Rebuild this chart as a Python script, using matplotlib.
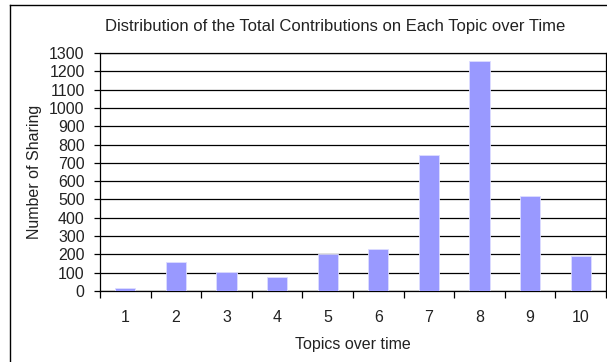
import numpy as np
import matplotlib.pyplot as plt
from matplotlib.lines import Line2D

topics = [1, 2, 3, 4, 5, 6, 7, 8, 9, 10]
sharing = [18, 160, 105, 75, 200, 232, 742, 1255, 520, 192]
yticks = list(range(0, 1301, 100))

plt.rcParams['font.family'] = ['Liberation Sans', 'DejaVu Sans']

fig = plt.figure(figsize=(6.07, 3.62), dpi=100)
W, H = 607, 362
ax = fig.add_axes([100 / W, (H - 291) / H, 506 / W, (291 - 53) / H])

x = np.arange(1, len(topics) + 1)
ax.bar(x, sharing, width=0.4, color='#9999FF', edgecolor='#DDDDFF', linewidth=0.6, zorder=3)

ax.set_xlim(0.5, len(topics) + 0.5)
ax.set_ylim(0, 1300)
ax.set_yticks(yticks)
ax.yaxis.grid(True, color='black', linewidth=0.9, zorder=0)
ax.set_axisbelow(True)

# labels at centres, tick marks between categories
ax.set_xticks(x)
ax.set_xticklabels([str(t) for t in topics])
ax.set_xticks(np.arange(0.5, len(topics) + 1, 1.0), minor=True)
ax.tick_params(axis='x', which='major', length=0, pad=14, labelsize=11.5, colors='#222222')
ax.tick_params(axis='x', which='minor', length=5, width=0.9, direction='out')
ax.tick_params(axis='y', length=4, width=0.9, direction='out', pad=7, labelsize=11.5, labelcolor='#222222')

for s in ax.spines.values():
    s.set_linewidth(0.9)
    s.set_color('black')

ax.set_xlabel('Topics over time', fontsize=11.5, color='#222222', labelpad=8)
ax.set_ylabel('Number of Sharing', fontsize=11.5, color='#222222')
ax.yaxis.set_label_coords((42 - 100) / 506, 0.5)

fig.text(335 / W, 1 - 27 / H, 'Distribution of the Total Contributions on Each Topic over Time',
         ha='center', va='center', fontsize=12, color='#222222')

# outer chart frame
fig.add_artist(Line2D([10 / W, 10 / W], [0, 1 - 5 / H], color='black', linewidth=1, transform=fig.transFigure))
fig.add_artist(Line2D([10 / W, 1], [1 - 5 / H, 1 - 5 / H], color='black', linewidth=1, transform=fig.transFigure))

fig.savefig('out.png', dpi=100)
